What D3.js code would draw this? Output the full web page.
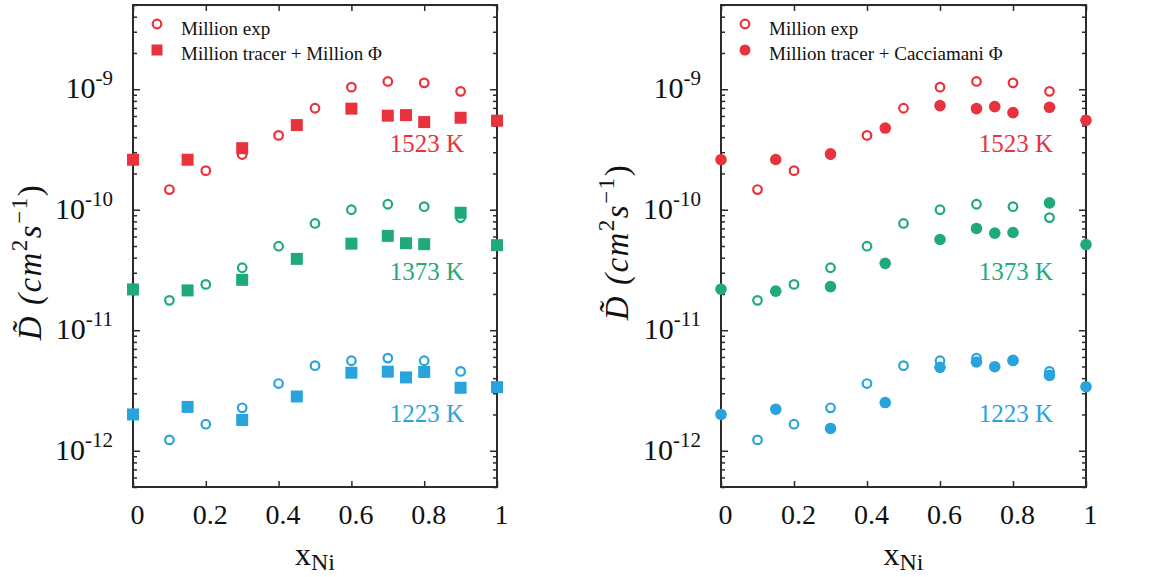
<!DOCTYPE html>
<html>
<head>
<meta charset="utf-8">
<script src="https://cdn.jsdelivr.net/npm/d3@7"></script>
<style>
  html, body { margin: 0; padding: 0; background: #fff; }
  svg { display: block; }
  text { font-family: "Liberation Serif", "Times New Roman", serif; }
</style>
</head>
<body>
<svg id="chart" width="1153" height="577"></svg>
<script>
// ---------- data ----------
const xExp  = [0.1, 0.2, 0.3, 0.4, 0.5, 0.6, 0.7, 0.8, 0.9];
const xCalc = [0, 0.15, 0.3, 0.45, 0.6, 0.7, 0.75, 0.8, 0.9, 1.0];

const exp1523 = [1.47e-10, 2.11e-10, 2.87e-10, 4.14e-10, 6.95e-10, 1.04e-9, 1.16e-9, 1.13e-9, 9.6e-10];
const exp1373 = [1.77e-11, 2.40e-11, 3.30e-11, 4.98e-11, 7.69e-11, 1.0e-10, 1.11e-10, 1.06e-10, 8.6e-11];
const exp1223 = [1.23e-12, 1.66e-12, 2.27e-12, 3.61e-12, 5.08e-12, 5.58e-12, 5.87e-12, 5.58e-12, 4.55e-12];

const millionPhi1523 = [2.6e-10, 2.6e-10, 3.24e-10, 5.04e-10, 6.9e-10, 6.03e-10, 6.1e-10, 5.34e-10, 5.8e-10, 5.48e-10];
const millionPhi1373 = [2.18e-11, 2.14e-11, 2.62e-11, 3.91e-11, 5.23e-11, 6.07e-11, 5.27e-11, 5.18e-11, 9.44e-11, 5.08e-11];
const millionPhi1223 = [2.0e-12, 2.31e-12, 1.80e-12, 2.82e-12, 4.44e-12, 4.53e-12, 4.06e-12, 4.5e-12, 3.33e-12, 3.37e-12];

const cacciamaniPhi1523 = [2.6e-10, 2.61e-10, 2.91e-10, 4.76e-10, 7.31e-10, 6.9e-10, 7.17e-10, 6.39e-10, 7.08e-10, 5.52e-10];
const cacciamaniPhi1373 = [2.19e-11, 2.11e-11, 2.30e-11, 3.59e-11, 5.66e-11, 6.99e-11, 6.39e-11, 6.47e-11, 1.14e-10, 5.14e-11];
const cacciamaniPhi1223 = [2.0e-12, 2.21e-12, 1.53e-12, 2.51e-12, 4.92e-12, 5.45e-12, 4.98e-12, 5.62e-12, 4.22e-12, 3.4e-12];

const temperatures = ["1523 K", "1373 K", "1223 K"];
const xTicks = [0, 0.2, 0.4, 0.6, 0.8, 1];
const xTickLabels = ["0", "0.2", "0.4", "0.6", "0.8", "1"];
const yMajor = [1e-12, 1e-11, 1e-10, 1e-9];
const yExponents = ["-12", "-11", "-10", "-9"];
const legendLeft = ["Million exp", "Million tracer + Million \u03A6"];
const legendRight = ["Million exp", "Million tracer + Cacciamani \u03A6"];

// ---------- style ----------
const colors = ["#e8323d", "#1faa78", "#29a3dc"];
const axisColor = "#2b2b2b";

const svg = d3.select("#chart");

const panels = [
  { left: 133, right: 497, calc: [millionPhi1523, millionPhi1373, millionPhi1223], marker: "square", legend: legendLeft, ylab: { x: 41, y: 262 } },
  { left: 721, right: 1086, calc: [cacciamaniPhi1523, cacciamaniPhi1373, cacciamaniPhi1223], marker: "circle", legend: legendRight, ylab: { x: 628, y: 242 } }
];
const plotTop = 5, plotBottom = 487;
const exps = [exp1523, exp1373, exp1223];
const tempLabelY = [152, 280, 422];

// minor tick values
const yMinor = [];
for (let e = -13; e <= -9; e++) {
  for (let m = 2; m <= 9; m++) {
    const v = m * Math.pow(10, e);
    if (v >= 5e-13 && v <= 5.0001e-9) yMinor.push(v);
  }
}

panels.forEach(p => {
  const x = d3.scaleLinear().domain([0, 1]).range([p.left, p.right]);
  const y = d3.scaleLog().domain([5e-13, 5e-9]).range([plotBottom, plotTop]);
  const g = svg.append("g");

  const styleAxis = sel => {
    sel.select(".domain").remove();
    sel.selectAll(".tick line").attr("stroke", axisColor).attr("stroke-width", 1.5);
  };
  g.append("g").attr("transform", `translate(0,${plotBottom})`)
    .call(d3.axisBottom(x).tickValues(xTicks).tickSize(-6).tickPadding(17)
      .tickFormat((d, i) => xTickLabels[i]))
    .call(styleAxis)
    .call(s => s.selectAll(".tick text").attr("fill", "#111").attr("font-size", 28)
      .attr("font-family", "Liberation Serif").attr("dx", 4));
  g.append("g").attr("transform", `translate(0,${plotTop})`)
    .call(d3.axisTop(x).tickValues(xTicks).tickSize(-6).tickFormat(""))
    .call(styleAxis);
  [[d3.axisLeft, p.left], [d3.axisRight, p.right]].forEach(([ax, xp]) => {
    g.append("g").attr("transform", `translate(${xp},0)`)
      .call(ax(y).tickValues(yMajor).tickSize(-7).tickFormat(""))
      .call(styleAxis);
    g.append("g").attr("transform", `translate(${xp},0)`)
      .call(ax(y).tickValues(yMinor).tickSize(-4).tickFormat(""))
      .call(styleAxis);
  });

  g.append("rect").attr("x", p.left).attr("y", plotTop)
    .attr("width", p.right - p.left).attr("height", plotBottom - plotTop)
    .attr("fill", "none").attr("stroke", axisColor).attr("stroke-width", 2);

  yMajor.forEach((v, i) => {
    const t = g.append("text").attr("x", p.left - 20).attr("y", y(v) + 9)
      .attr("text-anchor", "end").attr("fill", "#111").attr("font-size", 30);
    t.append("tspan").text("10");
    t.append("tspan").attr("font-size", 21).attr("dy", -13).text(yExponents[i]);
  });

  const xl = g.append("text").attr("x", (p.left + p.right) / 2).attr("y", 565)
    .attr("text-anchor", "middle").attr("fill", "#111").attr("font-size", 32);
  xl.append("tspan").text("x");
  xl.append("tspan").attr("font-size", 24).attr("dy", 5).text("Ni");

  const yl = g.append("text")
    .attr("transform", `translate(${p.ylab.x},${p.ylab.y}) rotate(-90)`)
    .attr("text-anchor", "middle").attr("fill", "#111").attr("font-size", 33)
    .attr("letter-spacing", 1.5).attr("font-style", "italic");
  yl.append("tspan").text("D\u0303 (cm");
  yl.append("tspan").attr("font-size", 23).attr("dy", -14).attr("font-style", "normal").text("2");
  yl.append("tspan").attr("dy", 14).text("s");
  yl.append("tspan").attr("font-size", 23).attr("dy", -14).attr("font-style", "normal").text("\u22121");
  yl.append("tspan").attr("dy", 14).attr("font-style", "normal").text(")");

  exps.forEach((arr, k) => {
    g.append("g").selectAll("circle").data(arr).join("circle")
      .attr("cx", (d, i) => x(xExp[i])).attr("cy", d => y(d)).attr("r", 4.3)
      .attr("fill", "#fff").attr("stroke", colors[k]).attr("stroke-width", 2.2);
  });
  p.calc.forEach((arr, k) => {
    const gg = g.append("g");
    if (p.marker === "square") {
      gg.selectAll("rect").data(arr).join("rect")
        .attr("x", (d, i) => x(xCalc[i]) - 6).attr("y", d => y(d) - 6)
        .attr("width", 12).attr("height", 12).attr("fill", colors[k]);
    } else {
      gg.selectAll("circle").data(arr).join("circle")
        .attr("cx", (d, i) => x(xCalc[i])).attr("cy", d => y(d)).attr("r", 5.8)
        .attr("fill", colors[k]);
    }
  });

  temperatures.forEach((t, k) => {
    g.append("text").attr("x", p.right - 33).attr("y", tempLabelY[k])
      .attr("text-anchor", "end").attr("fill", colors[k]).attr("font-size", 25).text(t);
  });

  const lx = p.left + 24;
  g.append("circle").attr("cx", lx).attr("cy", 24).attr("r", 4.3)
    .attr("fill", "#fff").attr("stroke", colors[0]).attr("stroke-width", 2.2);
  if (p.marker === "square") {
    g.append("rect").attr("x", lx - 5.5).attr("y", 50 - 5.5).attr("width", 11).attr("height", 11).attr("fill", colors[0]);
  } else {
    g.append("circle").attr("cx", lx).attr("cy", 50).attr("r", 5.5).attr("fill", colors[0]);
  }
  p.legend.forEach((t, i) => {
    g.append("text").attr("x", lx + 24).attr("y", 35 + i * 25)
      .attr("fill", "#111").attr("font-size", 19).text(t);
  });
});
</script>
</body>
</html>
